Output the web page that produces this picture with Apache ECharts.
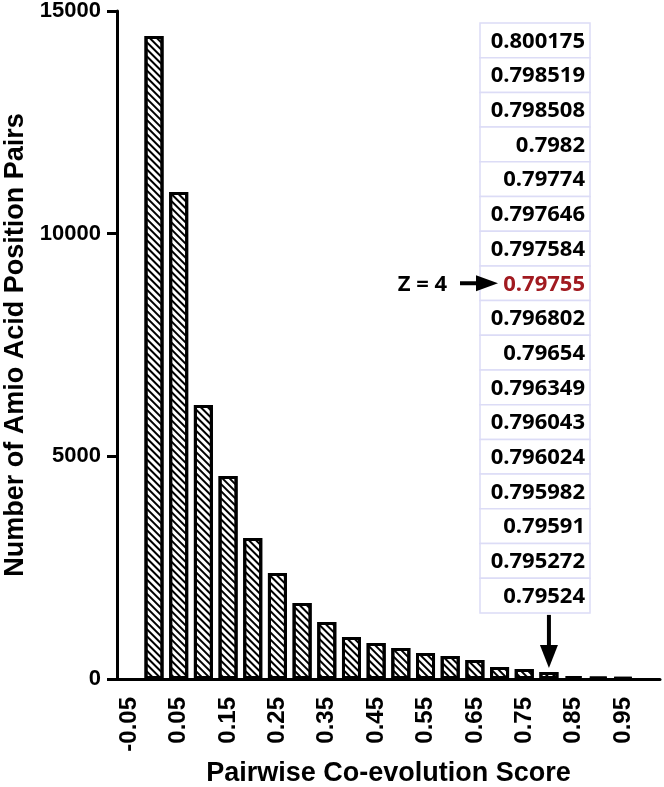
<!DOCTYPE html>
<html>
<head>
<meta charset="utf-8">
<script src="https://cdn.jsdelivr.net/npm/echarts@6/dist/echarts.min.js"></script>
<style>
  html, body { margin: 0; padding: 0; background: #fff; }
  #chart { width: 664px; height: 787px; }
</style>
</head>
<body>
<div id="chart"></div>
<script>
// histogram bins (every other one gets a label)
var scoreBins = ['-0.05', '0.00', '0.05', '0.10', '0.15', '0.20', '0.25', '0.30', '0.35', '0.40', '0.45',
  '0.50', '0.55', '0.60', '0.65', '0.70', '0.75', '0.80', '0.85', '0.90', '0.95', '1.00'];
// empty bins at both ends -> null (no bar)
var pairCounts = [null, 14437, 10934, 6152, 4558, 3166, 2380, 1706, 1280, 943, 808,
  696, 584, 516, 427, 270, 225, 157, 67, 45, 30, null];

var yMin = 0, yMax = 15000, yStep = 5000;

// top scores listed in the side table
var topScores = ['0.800175', '0.798519', '0.798508', '0.7982', '0.79774', '0.797646', '0.797584',
  '0.79755', '0.796802', '0.79654', '0.796349', '0.796043', '0.796024', '0.795982', '0.79591',
  '0.795272', '0.79524'];
var zRow = 7
var zText = 'Z = 4'
var markedBin = '0.80'

var axisFont = 'Liberation Sans, Arial, sans-serif'
var tableFont = 'Open Sans, sans-serif'

var myChart = echarts.init(document.getElementById('chart'))

var option = {
  animation: false,
  grid: { left: 117, right: 4, top: 11, bottom: 108, outerBoundsMode: 'none', containLabel: false },
  xAxis: {
    type: 'category',
    data: scoreBins,
    boundaryGap: true,
    name: 'Pairwise Co-evolution Score',
    nameLocation: 'middle',
    nameGap: 78,
    nameTextStyle: { fontFamily: axisFont, fontWeight: 'bold', fontSize: 27, color: '#000' },
    axisLine: { lineStyle: { color: '#000', width: 3 } },
    axisTick: { alignWithLabel: true, interval: 1, length: 11, lineStyle: { color: '#000', width: 3 } },
    axisLabel: {
      interval: 1, rotate: 90, margin: 18,
      fontFamily: axisFont, fontWeight: 'bold', fontSize: 24, color: '#000'
    },
    splitLine: { show: false }
  },
  yAxis: {
    type: 'value',
    min: yMin, max: yMax, interval: yStep,
    name: 'Number of Amio Acid Position Pairs',
    nameLocation: 'middle',
    nameGap: 88,
    nameTextStyle: { fontFamily: axisFont, fontWeight: 'bold', fontSize: 27, color: '#000' },
    axisLine: { show: true, lineStyle: { color: '#000', width: 3 } },
    axisTick: { show: true, length: 10, lineStyle: { color: '#000', width: 3 } },
    axisLabel: {
      margin: 16, fontFamily: axisFont, fontWeight: 'bold', fontSize: 22, color: '#000',
      formatter: function (v) { return String(v) }
    },
    splitLine: { show: false }
  },
  series: [{
    type: 'bar',
    data: pairCounts,
    barWidth: 19,
    itemStyle: {
      color: '#fff',
      borderColor: '#000',
      borderWidth: 3,
      decal: {
        symbol: 'rect',
        symbolSize: 1,
        color: '#000',
        dashArrayX: [1, 0],
        dashArrayY: [2, 3],
        rotation: Math.PI / 4
      }
    }
  }]
}
myChart.setOption(option)

// side table + arrows
var tableLeft = 480, tableRight = 590, tableTop = 23, rowH = 34.7
var g = []
topScores.forEach(function (s, i) {
  var y = tableTop + i * rowH
  g.push({
    type: 'rect',
    shape: { x: tableLeft, y: y, width: tableRight - tableLeft, height: rowH },
    style: { fill: '#fff', stroke: '#dcdcf6', lineWidth: 1.5 },
    z: 10
  })
  g.push({
    type: 'text',
    x: tableRight - 5, y: y + rowH / 2 + 1,
    style: {
      text: s, align: 'right', verticalAlign: 'middle',
      font: 'bold 22px ' + tableFont,
      fill: i === zRow ? '#a11a20' : '#000'
    },
    z: 11
  })
})

// Z = 4 arrow pointing at highlighted row
var zy = tableTop + (zRow + 0.5) * rowH
g.push({
  type: 'text', x: 447, y: zy + 1,
  style: { text: zText, align: 'right', verticalAlign: 'middle', font: 'bold 22px ' + tableFont, fill: '#000' },
  z: 11
})
g.push({ type: 'rect', shape: { x: 460, y: zy - 2, width: 18, height: 4 }, style: { fill: '#000' }, z: 11 })
g.push({ type: 'polygon', shape: { points: [[476, zy - 8], [476, zy + 8], [498, zy]] }, style: { fill: '#000' }, z: 11 })

// down arrow to the marked bin
var ax = myChart.convertToPixel({ xAxisIndex: 0 }, markedBin)
var tableBottom = tableTop + topScores.length * rowH
g.push({ type: 'rect', shape: { x: ax - 2, y: tableBottom + 2, width: 4, height: 32 }, style: { fill: '#000' }, z: 11 })
g.push({ type: 'polygon', shape: { points: [[ax - 9, tableBottom + 32], [ax + 9, tableBottom + 32], [ax, tableBottom + 55]] }, style: { fill: '#000' }, z: 11 })

myChart.setOption({ graphic: g })
</script>
</body>
</html>
